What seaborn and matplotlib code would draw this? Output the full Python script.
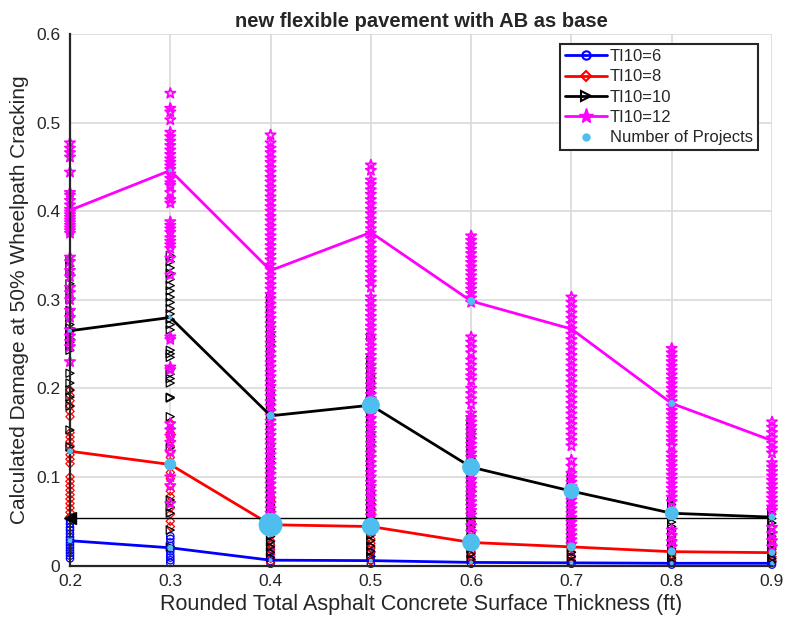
import matplotlib
matplotlib.use("Agg")
import matplotlib.pyplot as plt
import numpy as np
import pandas as pd
import seaborn as sns
from matplotlib.lines import Line2D

# Rounded total AC surface thickness (ft)
thickness = [0.2, 0.3, 0.4, 0.5, 0.6, 0.7, 0.8, 0.9]
xtick_labels = ["0.2", "0.3", "0.4", "0.5", "0.6", "0.7", "0.8", "0.9"]
ytick_values = [0, 0.1, 0.2, 0.3, 0.4, 0.5, 0.6]
ytick_labels = ["0", "0.1", "0.2", "0.3", "0.4", "0.5", "0.6"]

# Per-project damage, one list per thickness, for each traffic index
dmg_ti6 = [
    [0.051, 0.047, 0.043, 0.040, 0.036, 0.032, 0.029, 0.026, 0.023, 0.020, 0.017, 0.014, 0.011, 0.008],
    [0.033, 0.030, 0.026, 0.022, 0.019, 0.016, 0.012, 0.009, 0.006, 0.003],
    [0.024, 0.019, 0.014, 0.009, 0.005, 0.002],
    [0.020, 0.015, 0.010, 0.006, 0.002],
    [0.015, 0.010, 0.006, 0.002],
    [0.010, 0.005, 0.002],
    [0.008, 0.004, 0.001],
    [0.007, 0.003, 0.001],
]
dmg_ti8 = [
    [0.198, 0.192, 0.186, 0.180, 0.174, 0.168, 0.150, 0.145, 0.140, 0.135, 0.130, 0.125, 0.120, 0.115,
     0.100, 0.095, 0.090, 0.085, 0.080, 0.075, 0.070, 0.065, 0.060, 0.055],
    [0.161, 0.155, 0.150, 0.145, 0.140, 0.135, 0.128, 0.122, 0.117, 0.112, 0.105, 0.098, 0.090, 0.084,
     0.078, 0.072, 0.065, 0.058, 0.050, 0.044],
    [0.093, 0.088, 0.083, 0.078, 0.073, 0.068, 0.063, 0.058, 0.053, 0.048, 0.043, 0.038, 0.033, 0.028,
     0.023, 0.018, 0.013, 0.008, 0.003],
    [0.070, 0.065, 0.060, 0.055, 0.050, 0.045, 0.040, 0.035, 0.030, 0.025, 0.020, 0.015, 0.010, 0.005],
    [0.050, 0.045, 0.040, 0.035, 0.030, 0.025, 0.020, 0.015, 0.010, 0.005],
    [0.040, 0.035, 0.030, 0.025, 0.020, 0.015, 0.010, 0.005],
    [0.032, 0.027, 0.022, 0.017, 0.012, 0.007, 0.003],
    [0.030, 0.025, 0.020, 0.015, 0.010, 0.005],
]
dmg_ti10 = [
    [0.345, 0.338, 0.330, 0.318, 0.310, 0.300, 0.288, 0.280, 0.272, 0.268, 0.264, 0.260, 0.256, 0.252,
     0.248, 0.243, 0.217, 0.206, 0.198, 0.190, 0.180, 0.153, 0.134],
    [0.350, 0.343, 0.336, 0.330, 0.323, 0.316, 0.310, 0.303, 0.297, 0.290, 0.284, 0.278, 0.272, 0.266,
     0.243, 0.239, 0.235, 0.221, 0.216, 0.211, 0.206, 0.190, 0.189, 0.168, 0.133, 0.074, 0.066, 0.059,
     0.040, 0.021],
    [0.303, 0.297, 0.291, 0.285, 0.279, 0.273, 0.267, 0.261, 0.255, 0.249, 0.243, 0.237, 0.231, 0.225,
     0.219, 0.213, 0.207, 0.201, 0.195, 0.189, 0.183, 0.177, 0.171, 0.165, 0.159, 0.153, 0.147, 0.141,
     0.135, 0.129, 0.123, 0.117, 0.111, 0.105, 0.099, 0.093, 0.087, 0.081, 0.075, 0.069, 0.063, 0.057,
     0.051, 0.045, 0.039, 0.033, 0.027, 0.021, 0.015, 0.009],
    [0.258, 0.232, 0.226, 0.220, 0.214, 0.208, 0.202, 0.196, 0.190, 0.184, 0.178, 0.172, 0.166, 0.160,
     0.154, 0.148, 0.142, 0.136, 0.130, 0.124, 0.118, 0.112, 0.106, 0.100, 0.094, 0.088, 0.082, 0.076,
     0.070, 0.064, 0.058, 0.052, 0.046, 0.040, 0.034, 0.028, 0.022, 0.016, 0.010],
    [0.163, 0.157, 0.151, 0.145, 0.139, 0.133, 0.127, 0.121, 0.115, 0.109, 0.103, 0.097, 0.091, 0.085,
     0.079, 0.073, 0.067, 0.061, 0.055, 0.049, 0.043, 0.037, 0.031, 0.025, 0.019, 0.013, 0.007],
    [0.100, 0.095, 0.090, 0.085, 0.080, 0.075, 0.070, 0.065, 0.060, 0.055, 0.050, 0.045, 0.040, 0.035,
     0.030, 0.025, 0.020, 0.015, 0.010, 0.005],
    [0.074, 0.069, 0.064, 0.059, 0.054, 0.049, 0.044, 0.039, 0.034, 0.029, 0.024, 0.019, 0.014, 0.009,
     0.004],
    [0.063, 0.058, 0.053, 0.048, 0.043, 0.038, 0.033, 0.028, 0.023, 0.018, 0.013, 0.008, 0.004],
]
dmg_ti12 = [
    [0.477, 0.471, 0.466, 0.461, 0.444, 0.421, 0.418, 0.412, 0.407, 0.402, 0.399, 0.396, 0.393, 0.390,
     0.387, 0.384, 0.381, 0.378, 0.375, 0.348, 0.343, 0.333, 0.326, 0.314, 0.308, 0.300, 0.288, 0.280,
     0.266, 0.259, 0.253, 0.247, 0.230],
    [0.533, 0.516, 0.512, 0.503, 0.489, 0.484, 0.479, 0.474, 0.469, 0.464, 0.459, 0.455, 0.451, 0.447,
     0.442, 0.437, 0.432, 0.429, 0.421, 0.413, 0.409, 0.388, 0.384, 0.380, 0.376, 0.370, 0.366, 0.362,
     0.358, 0.347, 0.328, 0.258, 0.255, 0.224, 0.221, 0.160, 0.153, 0.146, 0.139, 0.128, 0.100, 0.090,
     0.070],
    [0.486, 0.477, 0.471, 0.466, 0.460, 0.455, 0.449, 0.444, 0.438, 0.433, 0.427, 0.422, 0.416, 0.411,
     0.405, 0.400, 0.394, 0.389, 0.383, 0.378, 0.372, 0.367, 0.361, 0.356, 0.350, 0.345, 0.339, 0.334,
     0.328, 0.323, 0.317, 0.312, 0.306, 0.301, 0.295, 0.290, 0.284, 0.279, 0.273, 0.268, 0.262, 0.257,
     0.251, 0.246, 0.240, 0.235, 0.229, 0.224, 0.218, 0.213, 0.207, 0.202, 0.196, 0.191, 0.185, 0.180,
     0.174, 0.169, 0.163, 0.158, 0.152, 0.147, 0.141, 0.136, 0.130, 0.125, 0.119, 0.114, 0.108, 0.103,
     0.097, 0.092, 0.086, 0.081, 0.075, 0.070, 0.064, 0.059],
    [0.452, 0.446, 0.435, 0.430, 0.424, 0.419, 0.413, 0.408, 0.402, 0.397, 0.391, 0.386, 0.380, 0.375,
     0.369, 0.364, 0.358, 0.353, 0.347, 0.342, 0.336, 0.331, 0.325, 0.320, 0.314, 0.303, 0.298, 0.292,
     0.287, 0.281, 0.276, 0.270, 0.265, 0.259, 0.254, 0.248, 0.243, 0.237, 0.232, 0.226, 0.221, 0.215,
     0.210, 0.204, 0.199, 0.193, 0.188, 0.182, 0.177, 0.171, 0.166, 0.160, 0.155, 0.149, 0.144, 0.138,
     0.133, 0.127, 0.122, 0.116, 0.111, 0.105, 0.100, 0.094, 0.089, 0.083, 0.078, 0.072, 0.067, 0.061,
     0.056, 0.050, 0.045, 0.039],
    [0.372, 0.367, 0.362, 0.357, 0.352, 0.347, 0.342, 0.337, 0.332, 0.327, 0.322, 0.317, 0.312, 0.307,
     0.302, 0.297, 0.258, 0.252, 0.246, 0.240, 0.232, 0.226, 0.220, 0.214, 0.209, 0.200, 0.194, 0.188,
     0.182, 0.172, 0.167, 0.162, 0.157, 0.152, 0.147, 0.142, 0.137, 0.132, 0.127, 0.122, 0.117, 0.112,
     0.107, 0.102, 0.097, 0.092, 0.087, 0.082, 0.077, 0.072, 0.067, 0.062, 0.057, 0.052, 0.045, 0.038,
     0.030, 0.022],
    [0.303, 0.297, 0.291, 0.285, 0.279, 0.273, 0.267, 0.261, 0.255, 0.249, 0.243, 0.237, 0.231, 0.225,
     0.219, 0.213, 0.207, 0.201, 0.195, 0.189, 0.183, 0.177, 0.171, 0.165, 0.159, 0.153, 0.147, 0.141,
     0.135, 0.119, 0.112, 0.104, 0.099, 0.094, 0.089, 0.084, 0.079, 0.074, 0.069, 0.064, 0.059, 0.054,
     0.049, 0.044, 0.039, 0.034, 0.029, 0.024],
    [0.245, 0.240, 0.235, 0.230, 0.225, 0.220, 0.215, 0.210, 0.205, 0.200, 0.195, 0.190, 0.185, 0.180,
     0.175, 0.170, 0.165, 0.160, 0.155, 0.150, 0.145, 0.140, 0.135, 0.127, 0.122, 0.117, 0.112, 0.107,
     0.102, 0.097, 0.092, 0.087, 0.082, 0.077, 0.072, 0.040, 0.034, 0.027, 0.021],
    [0.162, 0.156, 0.150, 0.144, 0.138, 0.132, 0.127, 0.116, 0.111, 0.106, 0.101, 0.096, 0.091, 0.086,
     0.081, 0.076, 0.071, 0.066, 0.062, 0.043, 0.036, 0.028, 0.021],
]

# Mean damage per thickness for each traffic index
mean_ti6 = [0.028, 0.020, 0.006, 0.0055, 0.0035, 0.003, 0.0025, 0.0025]
mean_ti8 = [0.129, 0.114, 0.046, 0.044, 0.026, 0.021, 0.0156, 0.0145]
mean_ti10 = [0.265, 0.280, 0.169, 0.181, 0.111, 0.084, 0.059, 0.0546]
mean_ti12 = [0.401, 0.446, 0.333, 0.376, 0.2985, 0.267, 0.183, 0.141]

# Number of projects behind each mean
nproj_ti6 = [6, 9, 4, 4, 4, 4, 4, 4]
nproj_ti8 = [9, 36, 144, 81, 81, 20, 16, 11]
nproj_ti10 = [4, 4, 16, 81, 81, 64, 49, 12]
nproj_ti12 = [0, 4, 0, 0, 16, 0, 12, 0]

# Horizontal reference level
ref_level = 0.0536

series_names = ["TI10=6", "TI10=8", "TI10=10", "TI10=12"]
series_colors = ["#0000FF", "#FF0000", "#000000", "#FF00FF"]
series_markers = ["o", "D", ">", "*"]
series_msizes = [28, 18, 34, 60]
series_lw = [0.9, 0.9, 0.9, 1.3]
proj_color = "#4DBEEE"

sns.set_style("white")
plt.rcParams["font.family"] = ["Liberation Sans", "DejaVu Sans"]

fig = plt.figure(figsize=(7.85, 6.22), dpi=100)
ax = fig.add_axes([70 / 785, 1 - 565.5 / 622, 702 / 785, 531.5 / 622])

dmg_all = [dmg_ti6, dmg_ti8, dmg_ti10, dmg_ti12]
mean_all = [mean_ti6, mean_ti8, mean_ti10, mean_ti12]
nproj_all = [nproj_ti6, nproj_ti8, nproj_ti10, nproj_ti12]

# Scattered project values
for k, (name, col, mk, ms) in enumerate(zip(series_names, series_colors, series_markers, series_msizes)):
    rows = [(t, v) for t, vals in zip(thickness, dmg_all[k]) for v in vals]
    df = pd.DataFrame(rows, columns=["thickness", "damage"])
    sns.scatterplot(data=df, x="thickness", y="damage", marker=mk, s=ms,
                    facecolors="none", edgecolor=col, linewidth=series_lw[k],
                    ax=ax, legend=False, clip_on=False, zorder=2 + k * 0.1)

# Mean lines
for k, (name, col) in enumerate(zip(series_names, series_colors)):
    df = pd.DataFrame({"thickness": thickness, "damage": mean_all[k]})
    sns.lineplot(data=df, x="thickness", y="damage", color=col, linewidth=2,
                 estimator=None, ax=ax, legend=False, zorder=4)

# Reference line
ref_df = pd.DataFrame({"thickness": [thickness[0], thickness[-1]], "damage": [ref_level, ref_level]})
sns.lineplot(data=ref_df, x="thickness", y="damage", color="black", linewidth=1.0,
             estimator=None, ax=ax, legend=False, zorder=4)
ax.plot([thickness[0]], [ref_level], marker="<", color="black", markersize=9,
        clip_on=False, zorder=4.5)

# Project count dots
proj_rows = []
for k in range(4):
    for t, m, n in zip(thickness, mean_all[k], nproj_all[k]):
        proj_rows.append((t, m, n))
proj_df = pd.DataFrame(proj_rows, columns=["thickness", "damage", "count"])
proj_df = proj_df[proj_df["count"] > 0]
sns.scatterplot(data=proj_df, x="thickness", y="damage", size="count",
                sizes=(0, 298), size_norm=(0, 144), color=proj_color,
                edgecolor="none", ax=ax, legend=False, clip_on=False, zorder=6)

ax.set_xlim(0.2, 0.9)
ax.set_ylim(0, 0.6)
ax.set_xticks(thickness)
ax.set_xticklabels(xtick_labels)
ax.set_yticks(ytick_values)
ax.set_yticklabels(ytick_labels)
ax.grid(True, color="#dcdcdc", linewidth=1.3)
ax.set_axisbelow(True)
for side in ["top", "right"]:
    ax.spines[side].set_visible(False)
for side in ["left", "bottom"]:
    ax.spines[side].set_color("#262626")
    ax.spines[side].set_linewidth(1.6)
ax.tick_params(direction="in", length=4, width=1.2, labelsize=12.5, colors="#262626",
               labelcolor="#262626")
ax.tick_params(axis="y", pad=7)
ax.tick_params(axis="x", pad=6)

ax.set_xlabel("Rounded Total Asphalt Concrete Surface Thickness (ft)", fontsize=15.5, color="#262626",
              labelpad=4)
ax.set_ylabel("Calculated Damage at 50% Wheelpath Cracking", fontsize=15, color="#262626",
              labelpad=5)
ax.set_title("new flexible pavement with AB as base", fontsize=14.5, fontweight="bold", pad=5)

handles = [
    Line2D([], [], color=series_colors[0], lw=2, marker="o", mfc="none", mec=series_colors[0], ms=6, mew=1.5),
    Line2D([], [], color=series_colors[1], lw=2, marker="D", mfc="none", mec=series_colors[1], ms=5, mew=1.5),
    Line2D([], [], color=series_colors[2], lw=2, marker=">", mfc="none", mec=series_colors[2], ms=7, mew=1.5),
    Line2D([], [], color=series_colors[3], lw=2, marker="*", mfc=series_colors[3], mec=series_colors[3], ms=11),
    Line2D([], [], color=proj_color, lw=0, marker="o", mfc=proj_color, mec="none", ms=6),
]
leg = ax.legend(handles, series_names + ["Number of Projects"], loc="upper right",
                bbox_to_anchor=(0.980, 0.981), fontsize=12, frameon=True, fancybox=False,
                framealpha=1, edgecolor="#262626", handlelength=2.5, handletextpad=0.2,
                labelspacing=0.32, borderpad=0.3, borderaxespad=0)
leg.get_frame().set_linewidth(1.5)
leg.set_zorder(10)

fig.savefig("out.png", dpi=100)
